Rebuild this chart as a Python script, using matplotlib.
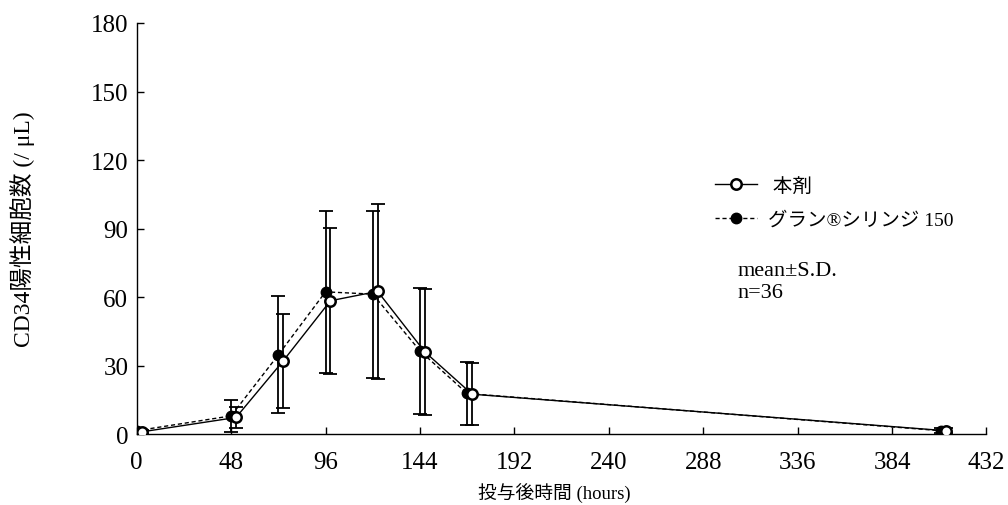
import matplotlib
matplotlib.use("Agg")
import matplotlib.pyplot as plt

plt.rcParams['font.family'] = ['Liberation Serif', 'Noto Sans CJK JP']

# sampling times (hours); open-circle series is drawn slightly offset
times = [0, 48, 72, 96, 120, 144, 168, 409]
open_shift = 2.5

honzai_mean = [1.0, 7.3, 32.1, 58.4, 62.5, 36.0, 17.5, 1.5]
honzai_sd = [1.0, 4.4, 20.6, 32.0, 38.2, 27.5, 13.6, 1.0]

gran_mean = [1.5, 8.0, 34.7, 62.3, 61.3, 36.5, 17.8, 1.5]
gran_sd = [1.0, 6.9, 25.6, 35.5, 36.5, 27.5, 13.6, 1.0]

labels = [' 本剤', 'グラン®シリンジ 150']
xticks = [0, 48, 96, 144, 192, 240, 288, 336, 384, 432]
yticks = [0, 30, 60, 90, 120, 150, 180]

fig = plt.figure(figsize=(10.08, 5.06), dpi=100)
ax = fig.add_axes([0.1356, 0.140, 0.843, 0.8126])

t_open = [t + open_shift for t in times]

ax.errorbar(times, gran_mean, yerr=gran_sd, fmt='none', ecolor='black',
            elinewidth=1.3, capsize=5, capthick=1.3)
ax.errorbar(t_open, honzai_mean, yerr=honzai_sd, fmt='none', ecolor='black',
            elinewidth=1.3, capsize=5, capthick=1.3)

ax.plot(times, gran_mean, color='black', ls=(0, (3, 2)), lw=1.0,
        marker='o', ms=7.5, mfc='black', mec='black', label=labels[1], zorder=3)
ax.plot(t_open, honzai_mean, color='black', ls='-', lw=1.0,
        marker='o', ms=7.5, mfc='white', mec='black', mew=1.8, label=labels[0], zorder=4)

ax.set_xlim(0, 432)
ax.set_ylim(0, 180)
ax.set_xticks(xticks)
ax.set_yticks(yticks)
ax.tick_params(direction='in', length=5, width=1, labelsize=18)
ax.tick_params(axis='x', pad=12)
ax.tick_params(axis='y', pad=6)
for s in ['top', 'right']:
    ax.spines[s].set_visible(False)
for s in ['left', 'bottom']:
    ax.spines[s].set_linewidth(1)

ax.set_xlabel('投与後時間 (hours)', fontsize=13.5)
ax.set_ylabel('CD34陽性細胞数 (/ μL)', fontsize=17)
ax.xaxis.set_label_coords(0.492, -0.118)
ax.yaxis.set_label_coords(-0.12, 0.5)

handles, labs = ax.get_legend_handles_labels()
ax.legend(handles[::-1], labs[::-1], loc='upper left', bbox_to_anchor=(0.6805, 0.625),
          frameon=False, fontsize=14, handlelength=2.15, handletextpad=0.6,
          labelspacing=0.8, borderpad=0, borderaxespad=0)

ax.text(0.707, 0.42, 'mean±S.D.\nn=36', transform=ax.transAxes, fontsize=16,
        va='top', ha='left', linespacing=1.15)

fig.savefig('out.png', dpi=100)
